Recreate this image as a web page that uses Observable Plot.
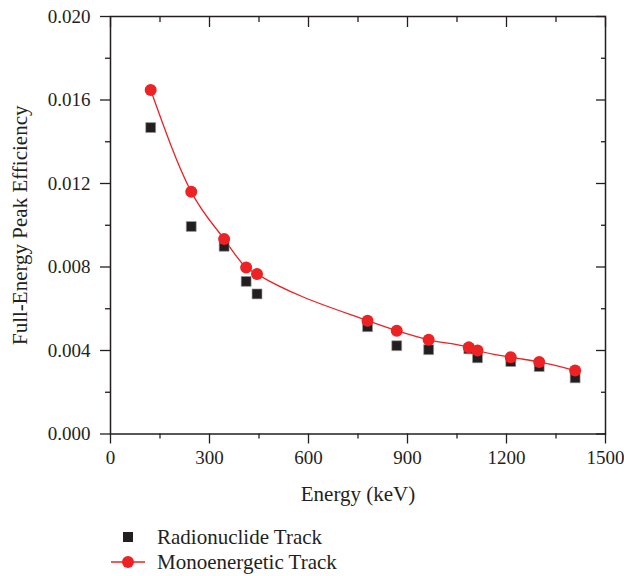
<!DOCTYPE html>
<html>
<head>
<meta charset="utf-8">
<script src="https://cdn.jsdelivr.net/npm/d3@7"></script>
<script src="https://cdn.jsdelivr.net/npm/@observablehq/plot@0.6"></script>
<style>
  body { margin: 0; background: #fff; font-family: "Liberation Serif", serif; }
  #chart svg, #chart svg text { font-family: "Liberation Serif", serif !important; }
  #legend { position: relative; width: 624px; height: 66px; color: #231f20; font-size: 21px; }
  .item { position: absolute; left: 0; height: 24px; width: 624px; display: flex; align-items: center; }
  .item span { position: absolute; left: 157px; white-space: nowrap; }
</style>
</head>
<body>
<div id="chart"></div>
<div id="legend">
  <div class="item" style="top:15px">
    <svg width="150" height="24" style="position:absolute;left:0;top:0"><rect x="123" y="7" width="10" height="10" fill="#231f20"></rect></svg>
    <span>Radionuclide Track</span>
  </div>
  <div class="item" style="top:40px">
    <svg width="150" height="24" style="position:absolute;left:0;top:0"><line x1="111" x2="145" y1="12" y2="12" stroke="#ed2224" stroke-width="1.3"></line><circle cx="128" cy="12" r="6" fill="#ed2224"></circle></svg>
    <span>Monoenergetic Track</span>
  </div>
</div>
<script>
const energies = [121.8, 244.7, 344.3, 411.1, 444.0, 778.9, 867.4, 964.1, 1085.8, 1112.1, 1212.9, 1299.1, 1408.0];
const radionuclide = [0.01468, 0.00994, 0.00899, 0.00731, 0.00671, 0.00514, 0.00423, 0.00404, 0.00408, 0.00365, 0.00347, 0.00323, 0.00269];
const monoenergetic = [0.01648, 0.0116, 0.00934, 0.00798, 0.00766, 0.00543, 0.00495, 0.00451, 0.00415, 0.00400, 0.00368, 0.00345, 0.00304];
const xMajor = [0, 300, 600, 900, 1200, 1500];
const xMinor = [150, 450, 750, 1050, 1350];
const yMajor = [0, 0.004, 0.008, 0.012, 0.016, 0.020];
const yMinor = [0.002, 0.006, 0.010, 0.014, 0.018];

const radio = energies.map((e, i) => ({energy: e, eff: radionuclide[i]}));
const mono = energies.map((e, i) => ({energy: e, eff: monoenergetic[i]}));

const ink = "#231f20";
const red = "#ed2224";
const ff = "Liberation Serif";

const plot = Plot.plot({
  width: 624,
  height: 510,
  marginLeft: 110,
  marginRight: 19,
  marginTop: 16,
  marginBottom: 76.5,
  style: {fontFamily: ff, fontSize: "19px", color: ink, background: "#fff", overflow: "visible"},
  x: {domain: [0, 1500]},
  y: {domain: [0, 0.020]},
  marks: [
    Plot.axisX({ticks: xMajor, tickSize: 10, tickPadding: 6, tickFormat: d3.format("d"), label: null, fontFamily: ff, fontSize: 19, stroke: ink, strokeWidth: 1.3}),
    Plot.axisX({ticks: [], tickSize: 0, label: "Energy (keV)", labelAnchor: "center", labelArrow: "none", labelOffset: 67, fontFamily: ff, fontSize: 21}),
    Plot.axisX({ticks: xMinor, tickSize: 5, tickFormat: () => "", label: null, stroke: ink, strokeWidth: 1.3}),
    Plot.axisX({anchor: "top", ticks: xMajor, tickSize: 10, dy: 10, tickFormat: () => "", label: null, stroke: ink, strokeWidth: 1.3}),
    Plot.axisX({anchor: "top", ticks: xMinor, tickSize: 5, dy: 5, tickFormat: () => "", label: null, stroke: ink, strokeWidth: 1.3}),
    Plot.axisY({ticks: yMajor, tickSize: 10, tickPadding: 10, tickFormat: d3.format(".3f"), label: null, fontFamily: ff, fontSize: 19, stroke: ink, strokeWidth: 1.3}),
    Plot.axisY({ticks: [], tickSize: 0, label: "Full-Energy Peak Efficiency", labelAnchor: "center", labelArrow: "none", labelOffset: 98, fontFamily: ff, fontSize: 21}),
    Plot.axisY({ticks: yMinor, tickSize: 5, tickFormat: () => "", label: null, stroke: ink, strokeWidth: 1.3}),
    Plot.axisY({anchor: "right", ticks: yMajor, tickSize: 10, dx: -10, tickFormat: () => "", label: null, stroke: ink, strokeWidth: 1.3}),
    Plot.axisY({anchor: "right", ticks: yMinor, tickSize: 5, dx: -5, tickFormat: () => "", label: null, stroke: ink, strokeWidth: 1.3}),
    Plot.frame({stroke: ink, strokeWidth: 1.5}),
    Plot.line(mono, {x: "energy", y: "eff", stroke: red, strokeWidth: 1.3, curve: "monotone-x"}),
    Plot.dot(radio, {x: "energy", y: "eff", symbol: "square", r: 5.6, fill: ink, stroke: "#9a9a9a", strokeWidth: 0.6}),
    Plot.dot(mono, {x: "energy", y: "eff", r: 6, fill: red})
  ]
});
document.getElementById("chart").appendChild(plot);
</script>
</body>
</html>
